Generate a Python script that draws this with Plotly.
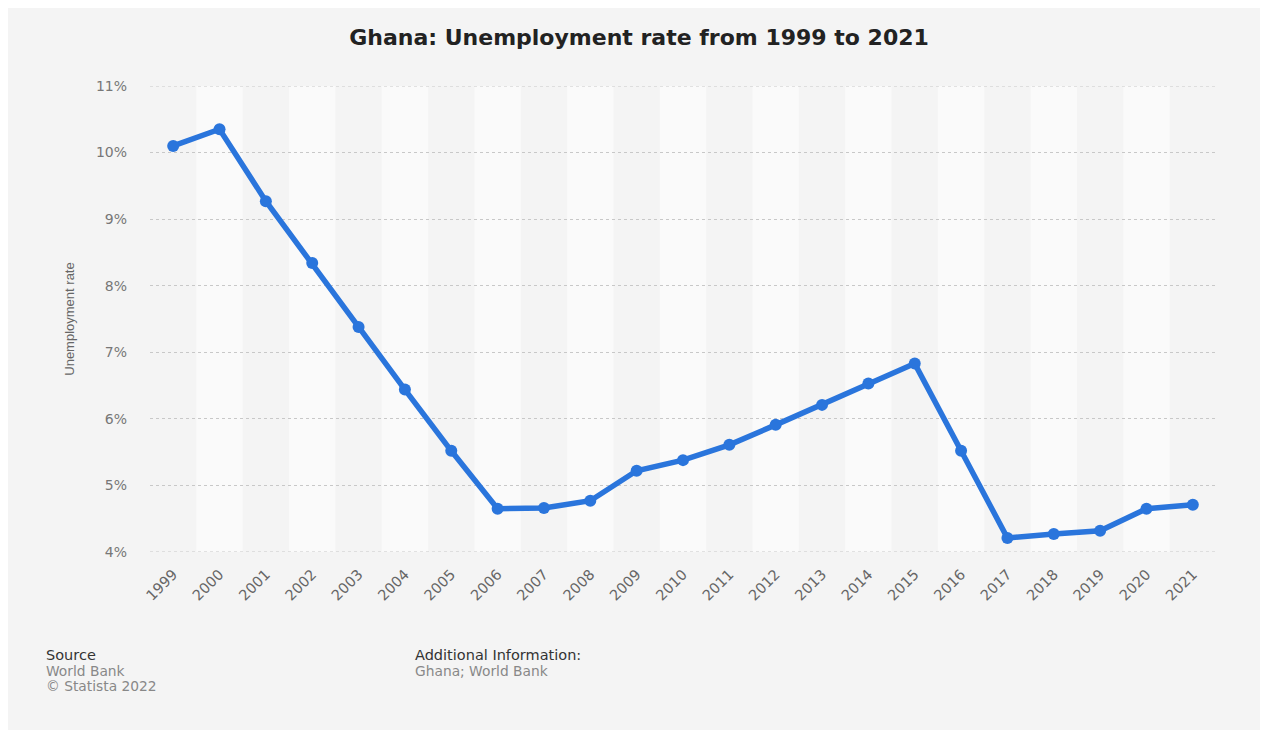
import plotly.graph_objects as go

years = ["1999", "2000", "2001", "2002", "2003", "2004", "2005", "2006", "2007", "2008",
         "2009", "2010", "2011", "2012", "2013", "2014", "2015", "2016", "2017", "2018",
         "2019", "2020", "2021"]
rates = [10.1, 10.35, 9.27, 8.34, 7.38, 6.44, 5.52, 4.65, 4.66, 4.77,
         5.22, 5.38, 5.61, 5.91, 6.21, 6.53, 6.83, 5.52, 4.21, 4.27,
         4.32, 4.65, 4.71]
y_min, y_max = 4, 11

W, H = 1262, 724
OFF = 8  # page body margin
L, R, T, B = 150 - OFF, W - (1216 - OFF), 86 - OFF, H - (552 - OFF)
PH = H - T - B


def py(screen_y):
    fy = screen_y - OFF
    return (H - B - fy) / PH


def px(screen_x):
    fx = screen_x - OFF
    return (fx - L) / (W - L - R)


fig = go.Figure()

shapes = []
for i, _ in enumerate(years):
    if i % 2 == 1:
        shapes.append(dict(type="rect", xref="x", yref="paper", x0=i - 0.5, x1=i + 0.5,
                           y0=0, y1=1, fillcolor="#fafafa", line_width=0, layer="below"))
# gridlines at the range edges (plotly skips them)
for yv in (y_min, y_max):
    shapes.append(dict(type="line", xref="paper", yref="y", x0=0, x1=1, y0=yv, y1=yv,
                       line=dict(color="#c8c8c8", width=1, dash="dot"), layer="below"))

fig.add_trace(go.Scatter(
    x=years, y=rates, mode="lines+markers",
    line=dict(color="#2a75dc", width=5.5),
    marker=dict(color="#2a75dc", size=12),
    hovertemplate="%{x}: %{y}%<extra></extra>",
))

fig.update_layout(
    width=W, height=H,
    paper_bgcolor="#f4f4f4", plot_bgcolor="#f4f4f4",
    margin=dict(l=L, r=R, t=T, b=B),
    showlegend=False,
    shapes=shapes,
    title=dict(text="<b>Ghana: Unemployment rate from 1999 to 2021</b>", x=0.5, xanchor="center",
               y=1 - (37 - OFF) / H, yanchor="middle",
               font=dict(family="DejaVu Sans", size=22, color="#222222")),
    font=dict(family="DejaVu Sans", color="#666666"),
)

fig.update_xaxes(
    type="category", categoryorder="array", categoryarray=years,
    range=[-0.5, len(years) - 0.5],
    tickangle=-45, tickfont=dict(size=14.5, color="#666666"),
    showgrid=False, showline=False, zeroline=False, ticks="", ticklabelstandoff=10,
)
fig.update_yaxes(
    range=[y_min, y_max], dtick=1, tick0=4, ticksuffix="%",
    tickfont=dict(size=14, color="#777777"),
    showgrid=True, gridcolor="#c8c8c8", griddash="dot", gridwidth=1,
    zeroline=False, showline=False, ticks="", ticklabelstandoff=22,
    title=dict(text="Unemployment rate", standoff=18,
               font=dict(family="Liberation Sans Narrow, Liberation Sans, Arial", size=13, color="#666666")),
)

ann_common = dict(xref="paper", yref="paper", xanchor="left", yanchor="middle",
                  showarrow=False, align="left")
fig.add_annotation(text="Source", x=px(44), y=py(655),
                   font=dict(size=14.5, color="#333333"), **ann_common)
fig.add_annotation(text="World Bank", x=px(44), y=py(671),
                   font=dict(size=13.8, color="#888888"), **ann_common)
fig.add_annotation(text="© Statista 2022", x=px(44), y=py(686),
                   font=dict(size=13.8, color="#888888"), **ann_common)
fig.add_annotation(text="Additional Information:", x=px(413), y=py(655),
                   font=dict(size=14.5, color="#333333"), **ann_common)
fig.add_annotation(text="Ghana; World Bank", x=px(413), y=py(671),
                   font=dict(size=13.8, color="#888888"), **ann_common)

fig.write_html("out.html")
